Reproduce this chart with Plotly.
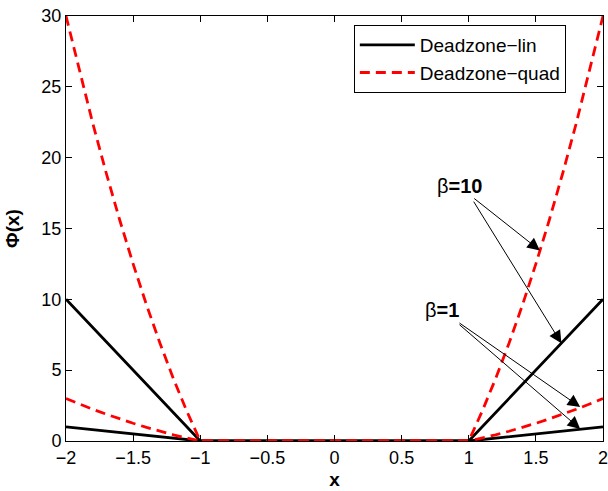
import plotly.graph_objects as go

# Data
x_lin = [-2.0, -1.0, 1.0, 2.0]
lin_b1 = [1.0, 0.0, 0.0, 1.0]
lin_b10 = [10.0, 0.0, 0.0, 10.0]

x_quad = [-2.0, -1.9, -1.8, -1.7, -1.6, -1.5, -1.4, -1.3, -1.2, -1.1, -1.0,
          1.0, 1.1, 1.2, 1.3, 1.4, 1.5, 1.6, 1.7, 1.8, 1.9, 2.0]
quad_b10 = [30.0, 26.1, 22.4, 18.9, 15.6, 12.5, 9.6, 6.9, 4.4, 2.1, 0.0,
            0.0, 2.1, 4.4, 6.9, 9.6, 12.5, 15.6, 18.9, 22.4, 26.1, 30.0]
quad_b1 = [3.0, 2.61, 2.24, 1.89, 1.56, 1.25, 0.96, 0.69, 0.44, 0.21, 0.0,
           0.0, 0.21, 0.44, 0.69, 0.96, 1.25, 1.56, 1.89, 2.24, 2.61, 3.0]

x_ticks = [-2, -1.5, -1, -0.5, 0, 0.5, 1, 1.5, 2]
x_ticktext = ["\u22122", "\u22121.5", "\u22121", "\u22120.5", "0", "0.5", "1", "1.5", "2"]
y_ticks = [0, 5, 10, 15, 20, 25, 30]

FONT = "Liberation Sans, Arial, Helvetica, sans-serif"
RED = "#ff0000"
DASH = "10px,6px"

fig = go.Figure()
fig.add_trace(go.Scatter(x=x_lin, y=lin_b10, mode="lines", name="Deadzone\u2212lin",
                         line=dict(color="black", width=2.8), legendgroup="lin"))
fig.add_trace(go.Scatter(x=x_lin, y=lin_b1, mode="lines", name="Deadzone\u2212lin",
                         line=dict(color="black", width=2.8), legendgroup="lin", showlegend=False))
fig.add_trace(go.Scatter(x=x_quad, y=quad_b10, mode="lines", name="Deadzone\u2212quad",
                         line=dict(color=RED, width=2.8, dash=DASH), legendgroup="quad"))
fig.add_trace(go.Scatter(x=x_quad, y=quad_b1, mode="lines", name="Deadzone\u2212quad",
                         line=dict(color=RED, width=2.8, dash=DASH), legendgroup="quad", showlegend=False))

# Annotation arrows (tail -> head in data coords)
arrows = [
    (1.03, 17.2, 1.53, 13.45),
    (1.03, 17.0, 1.69, 6.9),
    (0.92, 8.4, 1.83, 2.4),
    (0.92, 8.3, 1.83, 0.85),
]
for tx, ty, hx, hy in arrows:
    fig.add_annotation(x=hx, y=hy, ax=tx, ay=ty, xref="x", yref="y", axref="x", ayref="y",
                       text="", showarrow=True, arrowhead=2, arrowsize=2.5, arrowwidth=1,
                       arrowcolor="black", standoff=0)

fig.add_annotation(x=0.93, y=18.0, xref="x", yref="y", text="\u03b2<b>=10</b>", showarrow=False,
                   font=dict(family=FONT, size=20, color="black"))
fig.add_annotation(x=0.80, y=9.25, xref="x", yref="y", text="\u03b2<b>=1</b>", showarrow=False,
                   font=dict(family=FONT, size=20, color="black"))

axis_common = dict(showline=True, linecolor="black", linewidth=1, mirror="ticks",
                   ticks="inside", ticklen=6, tickcolor="black", tickwidth=1,
                   showgrid=False, zeroline=False, automargin=False,
                   ticklabeloverflow="allow",
                   tickfont=dict(family=FONT, size=18, color="black"))

fig.update_xaxes(range=[-2, 2], tickvals=x_ticks, ticktext=x_ticktext,
                 title=dict(text="<b>x</b>", font=dict(family=FONT, size=19, color="black"), standoff=6),
                 **axis_common)
fig.update_yaxes(range=[0, 30], tickvals=y_ticks,
                 title=dict(text="<b>\u03a6(x)</b>", font=dict(family=FONT, size=19, color="black"), standoff=16),
                 **axis_common)

fig.update_layout(
    width=608, height=491,
    margin=dict(l=66, r=5, t=16, b=50),
    plot_bgcolor="white", paper_bgcolor="white",
    legend=dict(x=0.536, y=0.979, xanchor="left", yanchor="top",
                bgcolor="white", bordercolor="black", borderwidth=1,
                font=dict(family=FONT, size=19, color="black"),
                itemwidth=55, tracegroupgap=0),
    showlegend=True,
)

fig.write_html("out.html", config={"displayModeBar": False},
               post_script="document.body.style.margin='0';document.body.style.padding='0';")
